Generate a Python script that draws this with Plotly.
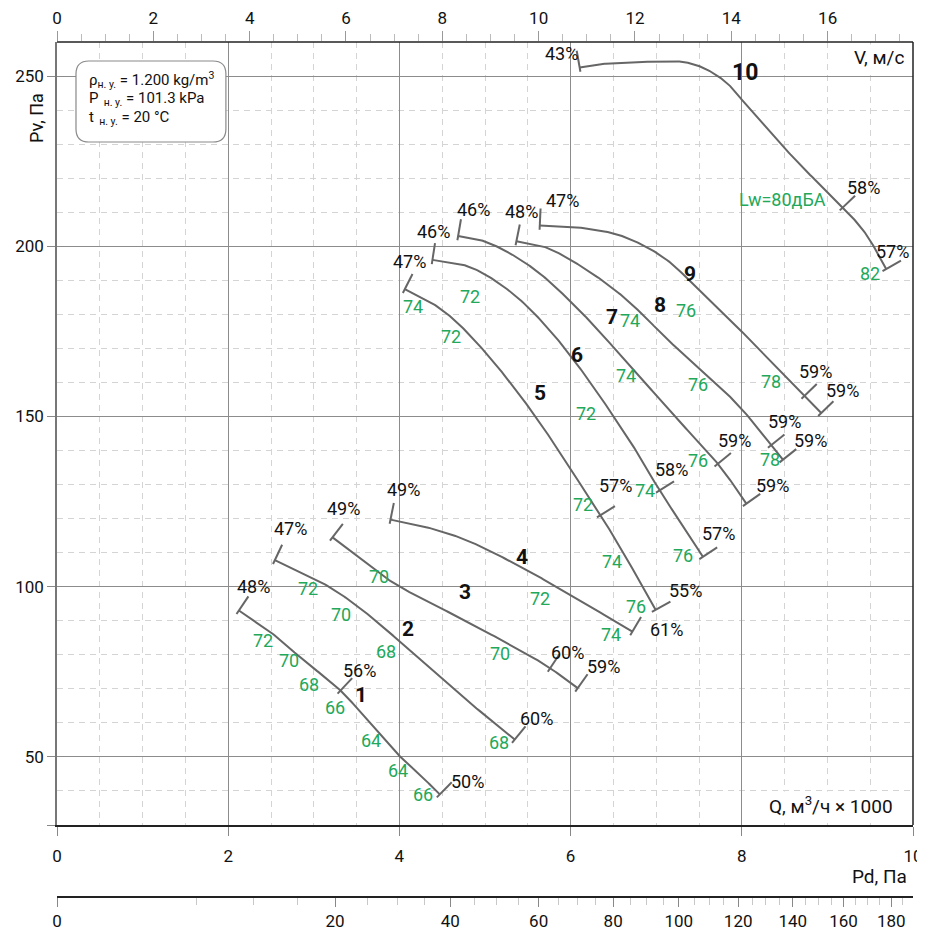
import numpy as np
import plotly.graph_objects as go

# ---------------- data ----------------
curve_names = ["1", "2", "3", "4", "5", "6", "7", "8", "9", "10"]

c1_q = [2.125, 2.487, 2.876, 3.312, 3.654, 4.005, 4.238, 4.472]
c1_p = [93.0, 86.8, 78.5, 69.5, 60.0, 50.2, 44.8, 39.0]
c2_q = [2.545, 3.109, 3.55, 4.005, 4.627, 5.347]
c2_p = [107.8, 101.0, 93.5, 83.9, 70.0, 55.1]
c3_q = [3.219, 3.6, 4.005, 4.822, 5.64, 6.083]
c3_p = [114.5, 107.2, 100.0, 89.3, 78.0, 70.2]
c4_q = [3.896, 4.3, 4.8, 5.367, 5.9, 6.722]
c4_p = [119.7, 117.6, 113.5, 106.5, 99.0, 86.8]
c5_q = [4.063, 4.4, 4.7, 5.05, 5.4, 5.7, 6.0, 6.35, 6.65, 6.993]
c5_p = [187.4, 183.0, 177.0, 167.5, 156.5, 146.0, 134.5, 121.0, 108.5, 93.2]
c6_q = [4.386, 4.75, 5.05, 5.4, 5.75, 6.1, 6.45, 6.75, 7.04, 7.3, 7.546]
c6_p = [196.0, 194.5, 191.0, 184.5, 175.5, 164.5, 152.0, 140.5, 128.3, 118.3, 108.8]
c7_q = [4.686, 4.95, 5.25, 5.6, 5.95, 6.3, 6.6, 6.885, 7.2, 7.72, 8.053]
c7_p = [203.0, 201.8, 198.5, 192.8, 185.0, 176.0, 167.5, 159.5, 150.5, 136.1, 124.4]
c8_q = [5.367, 5.717, 6.106, 6.495, 6.807, 7.157, 7.663, 8.013, 8.344, 8.48]
c8_p = [201.5, 199.6, 194.4, 187.6, 180.8, 172.0, 160.6, 151.8, 141.6, 137.3]
c9_q = [5.64, 6.1, 6.6, 7.08, 7.47, 7.86, 8.21, 8.6, 8.928]
c9_p = [206.1, 205.5, 203.0, 196.8, 188.0, 178.5, 169.5, 159.5, 151.0]
c10_q = [6.106, 6.34, 6.73, 7.12, 7.35, 7.585, 7.82, 8.013, 8.29, 8.675, 9.18, 9.45, 9.687]
c10_p = [252.5, 253.5, 254.0, 254.3, 254.0, 252.0, 248.1, 242.7, 234.8, 224.1, 211.4, 203.6, 193.3]

curves_q = [c1_q, c2_q, c3_q, c4_q, c5_q, c6_q, c7_q, c8_q, c9_q, c10_q]
curves_p = [c1_p, c2_p, c3_p, c4_p, c5_p, c6_p, c7_p, c8_p, c9_p, c10_p]

# efficiency marks
eff_start_txt = ["48%", "47%", "49%", "49%", "47%", "46%", "46%", "48%", "47%", "43%"]
eff_end_txt = ["50%", "60%", "59%", "61%", "55%", "57%", "59%", "59%", "59%", "57%"]
eff_mid_q = [3.312, None, 5.77, None, 6.347, 7.04, 7.72, 8.344, 8.733, 9.18]
eff_mid_txt = ["56%", None, "60%", None, "57%", "58%", "59%", "59%", "59%", "58%"]

# sound power labels (text) along the curves
lw_txt = ["72", "70", "68", "66", "64", "64", "66",
          "72", "70", "68", "68",
          "70", "70",
          "72", "74",
          "74", "72", "72", "74", "76",
          "72", "72", "74", "76",
          "74", "74", "76",
          "76", "76", "78",
          "78", "Lw=80дБА", "82"]

# axis ticks
q_ticks = [0, 2, 4, 6, 8, 10]
p_ticks = [30, 50, 100, 150, 200, 250]
p_ticktext = ["", "50", "100", "150", "200", "250"]
v_ticks = [0, 2, 4, 6, 8, 10, 12, 14, 16]
pd_major = [0, 20, 40, 60, 80, 100, 120, 140, 160, 180]
pd_minor = [v for v in range(5, 190, 5) if v % 20 != 0]

RHO = 1.2            # kg/m3
DUCT_AREA = 0.1563   # m2  (V = Q / A)

# ---------------- layout positions (not data) ----------------
eff_start_pos = [(2.292, 100.2), (2.729, 117.1), (3.351, 123.0), (4.051, 128.6), (4.121, 195.4),
                 (4.402, 204.2), (4.869, 210.8), (5.426, 210.1), (5.911, 213.3), (5.893, 256.6)]
eff_mid_pos = [(3.530, 75.3), None, (5.966, 80.8), None, (6.527, 129.8),
               (7.184, 134.4), (7.916, 143.0), (8.500, 148.4), (8.862, 163.1), (9.422, 217.2)]
eff_end_pos = [(4.790, 42.7), (5.604, 61.4), (6.386, 76.7), (7.119, 87.5), (7.340, 98.8),
               (7.733, 115.7), (8.363, 129.8), (8.800, 143.0), (9.180, 157.7), (9.764, 198.6)]
lw_pos = [(2.409, 84.1), (2.712, 78.4), (2.946, 71.4), (3.246, 64.6), (3.674, 54.7), (3.985, 45.9), (4.270, 39.1),
          (2.934, 99.5), (3.312, 91.9), (3.849, 81.1), (5.164, 54.3),
          (3.763, 103.0), (5.180, 80.3),
          (5.639, 96.5), (6.476, 85.9),
          (4.160, 182.4), (4.608, 173.4), (6.145, 124.0), (6.488, 107.4), (6.768, 94.2),
          (4.830, 185.3), (6.184, 150.9), (6.865, 128.4), (7.312, 109.3),
          (6.690, 178.3), (6.643, 162.1), (7.487, 137.2),
          (7.352, 181.2), (7.487, 159.5), (8.325, 137.3),
          (8.336, 160.4), (8.480, 213.7), (9.500, 192.0)]
num_pos = [(3.546, 68.2), (4.102, 87.5), (4.764, 98.5), (5.437, 108.6), (5.647, 156.8),
           (6.075, 168.0), (6.483, 179.2), (7.040, 182.7), (7.391, 192.0), (8.033, 251.0)]

W, H = 925, 930
OFF = 8  # page offset of the figure inside the browser window
# targets in screen pixels, converted to figure pixels
L_PX, R_PX, T_PX, B_PX = 57 - OFF, 913.5 - OFF, 42 - OFF, 825 - OFF
AX3_PX = 897 - OFF
Q_RANGE = [0, 10]
P_RANGE = [30, 260]
PXQ = (R_PX - L_PX) / (Q_RANGE[1] - Q_RANGE[0])
PXP = (B_PX - T_PX) / (P_RANGE[1] - P_RANGE[0])
paper_h = AX3_PX - T_PX
ydom0 = (AX3_PX - B_PX) / paper_h


def pp(xs, ys):
    """screen pixel -> paper fraction"""
    xp, yp = xs - OFF, ys - OFF
    return (xp - L_PX) / (R_PX - L_PX), (AX3_PX - yp) / paper_h


V_MAX = Q_RANGE[1] * 1000 / 3600 / DUCT_AREA

FONT = "Roboto"
CURVE_COL = "#666666"
GREEN = "#22a85a"
TXT = "#111111"


def catmull(qs, ps, n=24):
    # smooth curve through points in pixel-isotropic space
    P = np.column_stack([np.array(qs) * PXQ, np.array(ps) * PXP])
    ext = np.vstack([2 * P[0] - P[1], P, 2 * P[-1] - P[-2]])
    out = []
    for i in range(1, len(ext) - 2):
        p0, p1, p2, p3 = ext[i - 1], ext[i], ext[i + 1], ext[i + 2]
        t = np.linspace(0, 1, n, endpoint=(i == len(ext) - 3))[:, None]
        seg = 0.5 * ((2 * p1) + (-p0 + p2) * t + (2 * p0 - 5 * p1 + 4 * p2 - p3) * t ** 2
                     + (-p0 + 3 * p1 - 3 * p2 + p3) * t ** 3)
        out.append(seg)
    D = np.vstack(out)
    return D[:, 0] / PXQ, D[:, 1] / PXP


def tick_seg(dq, dp, i, length=17.0):
    # tick perpendicular to curve at index i, pointing upward on screen
    j0, j1 = max(i - 2, 0), min(i + 2, len(dq) - 1)
    tx = (dq[j1] - dq[j0]) * PXQ
    ty = (dp[j1] - dp[j0]) * PXP  # upward positive
    nrm = np.hypot(tx, ty)
    tx, ty = tx / nrm, ty / nrm
    nx, ny = -ty, tx
    if ny < 0:
        nx, ny = -nx, -ny
    q0 = dq[i] - 0.25 * length * nx / PXQ
    p0 = dp[i] - 0.25 * length * ny / PXP
    q1 = dq[i] + length * nx / PXQ
    p1 = dp[i] + length * ny / PXP
    return [q0, q1, None], [p0, p1, None]


fig = go.Figure()

tick_x, tick_y = [], []
for k in range(len(curve_names)):
    dq, dp = catmull(curves_q[k], curves_p[k])
    fig.add_trace(go.Scatter(x=dq, y=dp, mode="lines", line=dict(color=CURVE_COL, width=2),
                             hoverinfo="skip", showlegend=False))
    idxs = [0, len(dq) - 1]
    if eff_mid_q[k] is not None:
        idxs.append(int(np.argmin(np.abs(dq - eff_mid_q[k]))))
    for i in idxs:
        a, b = tick_seg(dq, dp, i)
        tick_x += a
        tick_y += b
fig.add_trace(go.Scatter(x=tick_x, y=tick_y, mode="lines", line=dict(color=CURVE_COL, width=2),
                         hoverinfo="skip", showlegend=False))

# dummy traces so the extra axes are drawn
fig.add_trace(go.Scatter(x=[None], y=[None], xaxis="x2", showlegend=False))
fig.add_trace(go.Scatter(x=[None], y=[None], xaxis="x3", showlegend=False))

ann = []
for k in range(len(curve_names)):
    for txt, pos in ((eff_start_txt[k], eff_start_pos[k]), (eff_mid_txt[k], eff_mid_pos[k]),
                     (eff_end_txt[k], eff_end_pos[k])):
        if txt is None:
            continue
        ann.append(dict(x=pos[0], y=pos[1], xref="x", yref="y", text=txt, showarrow=False,
                        font=dict(family=FONT, size=18, color=TXT)))
    ann.append(dict(x=num_pos[k][0], y=num_pos[k][1], xref="x", yref="y",
                    text="<b>%s</b>" % curve_names[k], showarrow=False,
                    font=dict(family=FONT, size=21 if k < 9 else 23, color=TXT)))
for txt, pos in zip(lw_txt, lw_pos):
    ann.append(dict(x=pos[0], y=pos[1], xref="x", yref="y", text=txt, showarrow=False,
                    font=dict(family=FONT, size=18, color=GREEN)))

# axis titles / captions
x, y = pp(906, 57)
ann.append(dict(x=x, y=y, xref="paper", yref="paper", text="V, м/с", showarrow=False,
                xanchor="right", yanchor="middle", bgcolor="white",
                font=dict(family=FONT, size=19, color=TXT)))
x, y = pp(895, 805)
ann.append(dict(x=x, y=y, xref="paper", yref="paper", text="Q, м<sup>3</sup>/ч × 1000", showarrow=False,
                xanchor="right", yanchor="middle", bgcolor="white",
                font=dict(family=FONT, size=19, color=TXT)))
x, y = pp(909, 876)
ann.append(dict(x=x, y=y, xref="paper", yref="paper", text="Pd, Па", showarrow=False,
                xanchor="right", yanchor="middle",
                font=dict(family=FONT, size=19, color=TXT)))
x, y = pp(36, 118)
ann.append(dict(x=x, y=y, xref="paper", yref="paper", text="Pv, Па", showarrow=False,
                textangle=-90, xanchor="center", yanchor="middle",
                font=dict(family=FONT, size=18, color=TXT)))

# info box text
box_lines = ["ρ<sub>н. у.</sub> = 1.200 kg/m<sup>3</sup>",
             "P<sub>  н. у.</sub> = 101.3 kPa",
             "t<sub>  н. у.</sub> = 20 °C"]
for line, ypx in zip(box_lines, [80, 99, 118]):
    x, y = pp(87, ypx)
    ann.append(dict(x=x, y=y, xref="paper", yref="paper", text=line, showarrow=False,
                    xanchor="left", yanchor="middle",
                    font=dict(family=FONT, size=15, color=TXT)))

# rounded info box
bx0, by0, bx1, by1, r = 76, 61, 226, 142, 13
pts = [("M", [(bx0 + r, by0)]), ("L", [(bx1 - r, by0)]), ("Q", [(bx1, by0), (bx1, by0 + r)]),
       ("L", [(bx1, by1 - r)]), ("Q", [(bx1, by1), (bx1 - r, by1)]),
       ("L", [(bx0 + r, by1)]), ("Q", [(bx0, by1), (bx0, by1 - r)]),
       ("L", [(bx0, by0 + r)]), ("Q", [(bx0, by0), (bx0 + r, by0)])]
path = ""
for cmd, plist in pts:
    path += cmd + " " + " ".join("%.5f,%.5f" % pp(a, b) for a, b in plist) + " "
path += "Z"

shapes = [
    dict(type="path", xref="paper", yref="paper", path=path,
         line=dict(color="#8a8a8a", width=1.2), fillcolor="white", layer="above"),
    dict(type="line", xref="x domain", yref="y domain", x0=0, x1=1, y0=1, y1=1,
         line=dict(color="#222222", width=1.5), layer="above"),
    dict(type="line", xref="x domain", yref="y domain", x0=1, x1=1, y0=0, y1=1,
         line=dict(color="#222222", width=1.5), layer="above"),
]

tickfont = dict(family=FONT, size=17, color=TXT)
fig.update_layout(
    width=W, height=H,
    margin=dict(l=L_PX, r=W - R_PX, t=T_PX, b=H - AX3_PX, pad=0, autoexpand=False),
    paper_bgcolor="white", plot_bgcolor="white",
    showlegend=False,
    annotations=ann, shapes=shapes,
    xaxis=dict(range=Q_RANGE, domain=[0, 1], anchor="y", tickvals=q_ticks, ticks="outside",
               automargin=False,
               ticklen=9, tickcolor="#888888", tickwidth=1, tickfont=tickfont, ticklabelstandoff=6,
               showline=True, linecolor="#222222", linewidth=1.5,
               showgrid=True, gridcolor="#8c8c8c", gridwidth=1, zeroline=False,
               minor=dict(dtick=0.5, showgrid=True, gridcolor="#d4d4d4", griddash="6px,5px",
                          gridwidth=1, ticks="")),
    yaxis=dict(range=P_RANGE, domain=[ydom0, 1], anchor="x", tickvals=p_ticks, ticktext=p_ticktext,
               automargin=False,
               ticks="outside", ticklen=8, tickcolor="#888888", tickfont=tickfont,
               showline=True, linecolor="#777777", linewidth=1.5,
               showgrid=True, gridcolor="#8c8c8c", gridwidth=1, zeroline=False,
               minor=dict(dtick=10, tick0=0, showgrid=True, gridcolor="#d4d4d4", griddash="6px,5px",
                          gridwidth=1, ticks="")),
    xaxis2=dict(range=[0, V_MAX], overlaying="x", side="top", anchor="y", tickvals=v_ticks,
                automargin=False,
                ticks="outside", ticklen=10, tickcolor="#999999", tickfont=tickfont,
                showgrid=False, zeroline=False, showline=False,
                minor=dict(dtick=0.5, ticks="outside", ticklen=7, tickcolor="#bbbbbb", showgrid=False)),
    xaxis3=dict(range=[0, V_MAX], overlaying="x", side="bottom", anchor="free", position=0,
                automargin=False,
                tickvals=[np.sqrt(2 * v / RHO) for v in pd_major], ticktext=[str(v) for v in pd_major],
                ticks="outside", ticklen=9, tickcolor="#888888", tickfont=tickfont,
                showline=True, linecolor="#222222", linewidth=1.5, showgrid=False, zeroline=False,
                minor=dict(tickmode="array", tickvals=[np.sqrt(2 * v / RHO) for v in pd_minor],
                           ticks="outside", ticklen=7, tickcolor="#c8c8c8", showgrid=False)),
)

fig.write_html("out.html")
